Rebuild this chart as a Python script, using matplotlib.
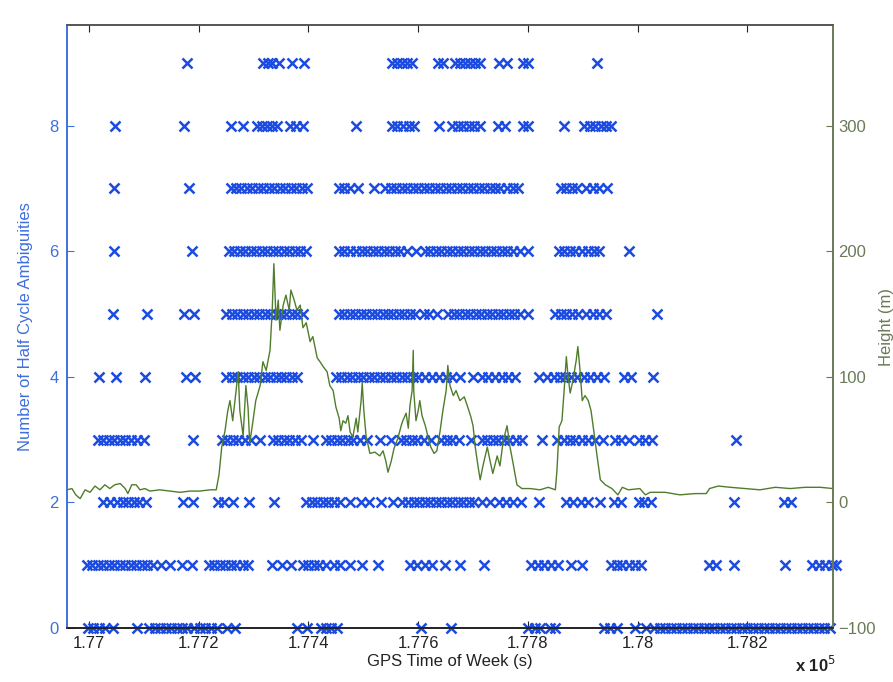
import matplotlib
matplotlib.use("Agg")
import matplotlib.pyplot as plt

plt.rcParams['font.family'] = ['Liberation Sans', 'DejaVu Sans']

# GPS time of week (s) at which each half-cycle ambiguity count was seen
lvl0_t = [176998, 177008, 177018, 177030, 177044, 177088, 177110, 177120, 177130, 177140,
          177150, 177160, 177170, 177178, 177192, 177202, 177212, 177222, 177234, 177252,
          177266, 177380, 177398, 177422, 177432, 177442, 177452, 177606, 177660, 177800,
          177812, 177822, 177840, 177850, 177938, 177950, 177962, 177996, 178016, 178030,
          178040, 178050, 178060, 178070, 178080, 178090, 178100, 178110, 178120, 178130,
          178140, 178150, 178160, 178170, 178180, 178190, 178200, 178210, 178220, 178230,
          178240, 178250, 178260, 178270, 178280, 178290, 178300, 178310, 178320, 178330,
          178340, 178350]
lvl1_t = [176996, 177006, 177016, 177026, 177036, 177046, 177056, 177066, 177076, 177086,
          177096, 177106, 177116, 177132, 177148, 177170, 177188, 177218, 177228, 177238,
          177248, 177258, 177268, 177280, 177290, 177334, 177352, 177368, 177390, 177400,
          177410, 177420, 177432, 177446, 177458, 177476, 177498, 177526, 177586, 177598,
          177612, 177626, 177648, 177676, 177720, 177806, 177818, 177830, 177842, 177854,
          177878, 177898, 177952, 177962, 177972, 177984, 177996, 178006, 178130, 178142,
          178176, 178268, 178318, 178330, 178342, 178354, 178362]
lvl2_t = [177026, 177038, 177052, 177062, 177072, 177082, 177092, 177104, 177171, 177190,
          177236, 177246, 177262, 177292, 177337, 177396, 177406, 177416, 177426, 177436,
          177446, 177458, 177476, 177496, 177510, 177532, 177555, 177570, 177582, 177592,
          177602, 177612, 177622, 177632, 177642, 177652, 177662, 177672, 177682, 177692,
          177702, 177716, 177731, 177748, 177760, 177772, 177788, 177820, 177870, 177882,
          177896, 177910, 177932, 177956, 177970, 178002, 178012, 178024, 178176, 178266,
          178280]
lvl3_t = [177016, 177026, 177036, 177046, 177056, 177066, 177076, 177088, 177100, 177190,
          177242, 177252, 177262, 177272, 177284, 177296, 177312, 177335, 177345, 177355,
          177365, 177375, 177387, 177408, 177432, 177442, 177452, 177462, 177472, 177482,
          177494, 177506, 177530, 177550, 177568, 177578, 177588, 177598, 177610, 177624,
          177642, 177652, 177662, 177675, 177697, 177716, 177726, 177736, 177746, 177756,
          177766, 177778, 177790, 177826, 177853, 177866, 177876, 177886, 177898, 177910,
          177922, 177936, 177958, 177970, 177984, 178002, 178014, 178026, 178180]
lvl4_t = [177019, 177050, 177102, 177177, 177193, 177250, 177260, 177270, 177280, 177290,
          177300, 177310, 177320, 177330, 177340, 177350, 177360, 177370, 177380, 177450,
          177460, 177470, 177480, 177490, 177500, 177510, 177520, 177530, 177540, 177550,
          177560, 177570, 177580, 177590, 177600, 177612, 177625, 177638, 177650, 177662,
          177676, 177700, 177716, 177728, 177740, 177752, 177764, 177776, 177820, 177834,
          177848, 177858, 177868, 177878, 177890, 177902, 177914, 177926, 177938, 177975,
          177988, 178028]
lvl5_t = [177043, 177105, 177173, 177192, 177250, 177260, 177270, 177280, 177290, 177300,
          177310, 177320, 177330, 177340, 177350, 177360, 177370, 177380, 177390, 177455,
          177465, 177475, 177485, 177495, 177505, 177515, 177525, 177535, 177545, 177555,
          177565, 177575, 177585, 177595, 177610, 177620, 177634, 177655, 177665, 177675,
          177685, 177695, 177705, 177715, 177725, 177735, 177745, 177755, 177765, 177775,
          177785, 177800, 177850, 177860, 177870, 177880, 177892, 177905, 177918, 177930,
          177942, 178035]
lvl6_t = [177045, 177187, 177255, 177265, 177275, 177285, 177295, 177305, 177315, 177325,
          177335, 177345, 177355, 177365, 177375, 177385, 177395, 177455, 177465, 177475,
          177487, 177497, 177507, 177517, 177527, 177537, 177547, 177557, 177567, 177579,
          177596, 177612, 177622, 177632, 177642, 177652, 177662, 177672, 177682, 177692,
          177702, 177712, 177722, 177732, 177742, 177752, 177762, 177772, 177785, 177800,
          177856, 177866, 177876, 177886, 177898, 177910, 177920, 177930, 177984]
lvl7_t = [177045, 177183, 177258, 177268, 177278, 177288, 177298, 177308, 177318, 177328,
          177338, 177348, 177358, 177368, 177378, 177388, 177398, 177455, 177465, 177475,
          177490, 177520, 177540, 177550, 177560, 177570, 177580, 177590, 177600, 177610,
          177620, 177630, 177640, 177650, 177660, 177670, 177680, 177690, 177700, 177710,
          177720, 177730, 177740, 177750, 177762, 177772, 177782, 177860, 177870, 177880,
          177890, 177905, 177918, 177930, 177945]
lvl8_t = [177048, 177174, 177258, 177280, 177307, 177316, 177325, 177334, 177343, 177366,
          177378, 177390, 177487, 177553, 177562, 177572, 177584, 177593, 177638, 177662,
          177672, 177682, 177692, 177702, 177712, 177745, 177758, 177791, 177800, 177865,
          177903, 177913, 177923, 177933, 177943, 177951]
lvl9_t = [177178, 177318, 177326, 177334, 177347, 177370, 177392, 177552, 177561, 177570,
          177579, 177588, 177636, 177645, 177668, 177677, 177686, 177695, 177704, 177713,
          177748, 177762, 177791, 177800, 177926]

levels = [lvl0_t, lvl1_t, lvl2_t, lvl3_t, lvl4_t, lvl5_t, lvl6_t, lvl7_t, lvl8_t, lvl9_t]

# height (m)
height_t = [176960, 176969, 176976, 176984, 176993, 177002, 177011, 177020, 177029, 177038,
            177047, 177057, 177066, 177071, 177078, 177086, 177093, 177102, 177111, 177129,
            177148, 177166, 177184, 177202, 177221, 177232, 177237, 177242, 177248, 177253,
            177257, 177262, 177268, 177272, 177275, 177281, 177286, 177290, 177293, 177299,
            177304, 177312, 177317, 177323, 177330, 177334, 177337, 177341, 177345, 177348,
            177354, 177359, 177365, 177368, 177374, 177379, 177385, 177390, 177396, 177403,
            177408, 177416, 177421, 177427, 177434, 177439, 177445, 177450, 177456, 177459,
            177463, 177468, 177472, 177476, 177481, 177487, 177490, 177496, 177498, 177501,
            177505, 177512, 177521, 177530, 177536, 177541, 177545, 177551, 177556, 177563,
            177569, 177572, 177578, 177582, 177585, 177589, 177591, 177592, 177596, 177600,
            177603, 177607, 177613, 177618, 177623, 177629, 177634, 177640, 177645, 177651,
            177654, 177658, 177664, 177669, 177676, 177684, 177691, 177696, 177700, 177704,
            177709, 177713, 177718, 177726, 177731, 177736, 177744, 177749, 177755, 177762,
            177767, 177773, 177780, 177789, 177804, 177822, 177837, 177850, 177853, 177857,
            177862, 177866, 177870, 177873, 177877, 177882, 177888, 177891, 177895, 177899,
            177904, 177910, 177915, 177920, 177926, 177932, 177941, 177953, 177964, 177972,
            177983, 178004, 178014, 178023, 178050, 178077, 178105, 178125, 178131, 178147,
            178169, 178196, 178223, 178251, 178278, 178305, 178333, 178356]
height_m = [10, 11, 6, 3, 10, 8, 13, 10, 14, 11,
            14, 15, 11, 7, 14, 14, 10, 11, 9, 10,
            9, 8, 9, 9, 10, 10, 22, 44, 57, 73,
            81, 65, 88, 104, 73, 53, 93, 75, 47, 65,
            81, 93, 112, 105, 121, 153, 190, 145, 161, 137,
            157, 165, 153, 169, 161, 153, 157, 139, 143, 128,
            132, 115, 112, 108, 104, 93, 89, 76, 67, 57,
            65, 63, 69, 56, 52, 67, 56, 81, 95, 73,
            53, 39, 40, 37, 41, 33, 24, 33, 43, 51,
            61, 65, 71, 59, 77, 89, 121, 88, 65, 73,
            81, 69, 61, 52, 44, 39, 41, 57, 73, 89,
            109, 93, 85, 89, 81, 84, 75, 68, 61, 44,
            29, 18, 29, 44, 33, 23, 37, 29, 49, 61,
            45, 31, 14, 11, 11, 10, 12, 10, 26, 60,
            65, 89, 116, 101, 87, 97, 113, 124, 105, 81,
            85, 81, 73, 57, 37, 18, 14, 11, 6, 12,
            10, 11, 6, 8, 8, 6, 7, 7, 11, 13,
            12, 11, 10, 12, 11, 12, 12, 11]

xticks = [177000, 177200, 177400, 177600, 177800, 178000, 178200]
xtick_labels = ['1.77', '1.772', '1.774', '1.776', '1.778', '1.78', '1.782']

blue = '#1b4be0'
axblue = '#3f6fdc'
green = '#4f7d2c'
axgreen = '#6a7a58'

fig = plt.figure(figsize=(8.93, 6.82), dpi=100)
ax1 = fig.add_axes([67 / 893, 54 / 682, 766 / 893, 603 / 682])
ax2 = ax1.twinx()

for lv, ts in enumerate(levels):
    ax1.plot(ts, [lv] * len(ts), ls='none', marker='x', ms=7.5, mew=1.8,
             color=blue, clip_on=False)

ax2.plot(height_t, height_m, color=green, lw=1.0)

ax1.set_xlim(176960, 178356)
ax1.set_ylim(0, 9.6)
ax2.set_ylim(-100, 380)

ax1.set_xticks(xticks)
ax1.set_xticklabels(xtick_labels)
ax1.set_yticks([0, 2, 4, 6, 8])
ax2.set_yticks([-100, 0, 100, 200, 300])

ax1.tick_params(axis='x', direction='in', top=True, length=5, labelsize=12,
                colors='#222222', pad=6)
ax1.tick_params(axis='y', direction='in', length=5, labelsize=12,
                colors=axblue, labelcolor=axblue, pad=6)
ax2.tick_params(axis='y', direction='in', length=5, labelsize=12,
                colors=axgreen, labelcolor=axgreen, pad=4)

for ax in (ax1, ax2):
    ax.spines['left'].set_color(axblue)
    ax.spines['right'].set_color(axgreen)
    ax.spines['bottom'].set_color('#222222')
    ax.spines['top'].set_color('#555555')
    for s in ax.spines.values():
        s.set_linewidth(1.2)

ax1.set_xlabel('GPS Time of Week (s)', fontsize=12, color='#222222', labelpad=2)
ax1.set_ylabel('Number of Half Cycle Ambiguities', fontsize=12, color=axblue, labelpad=12)
ax2.set_ylabel('Height (m)', fontsize=12, color=axgreen, labelpad=2)

fig.text(795 / 893, 7 / 682, r'x 10$^5$', fontsize=12, color='#222222',
         fontweight='bold', va='bottom')

fig.savefig('out.png', dpi=100)
